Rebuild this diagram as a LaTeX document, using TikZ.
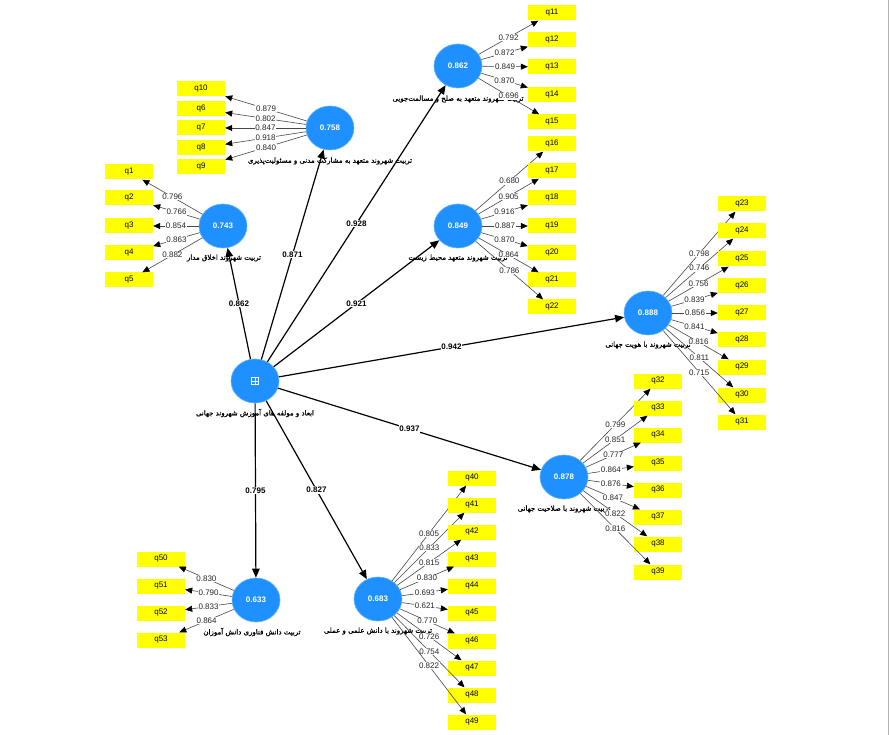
\documentclass[tikz,border=0pt]{standalone}
\usepackage{fontspec}
\setmainfont{Liberation Sans}
\newfontfamily\fafont[Script=Arabic,FakeBold=1.2]{DejaVu Sans}
\usetikzlibrary{shapes.geometric,arrows.meta}
\TeXXeTstate=1
\definecolor{lvblue}{HTML}{1E90FF}
\definecolor{indyellow}{HTML}{FFFF00}
\begin{document}
\begin{tikzpicture}[x=1pt,y=-1pt,
  lv/.style={ellipse, fill=lvblue, draw=lvblue!70!white, line width=0.6pt, minimum width=48pt, minimum height=44pt, inner sep=0pt, text=white, font=\fontsize{8}{9}\selectfont\bfseries},
  ind/.style={rectangle, fill=indyellow, minimum width=48pt, minimum height=15pt, inner sep=0pt, font=\fontsize{8}{9}\selectfont},
  ld/.style={-{Triangle[length=7pt,width=6pt,color=black]}, draw=black!72, line width=0.6pt},
  lw/.style={fill=white, inner sep=0.6pt, font=\fontsize{8}{9}\selectfont, text=black!85},
  pth/.style={-{Triangle[length=9pt,width=7.5pt]}, line width=1.2pt},
  pw/.style={fill=white, inner sep=0.8pt, font=\fontsize{8}{9}\selectfont\bfseries},
  fa/.style={font=\fafont\fontsize{7}{8}\selectfont, inner sep=0.5pt}]
\fill[white] (0,0) rectangle (889,735);
\useasboundingbox (0,0) rectangle (889,735);
\draw[black!30, line width=1pt] (888,0) -- (888,735);

% latent variables
\node[lv] (C) at (255,381) {};
\draw[white, line width=0.6pt] (C) ++(-3.5,-3.5) rectangle ++(7,7);
\draw[white, line width=0.6pt] (C) ++(-3.5,0) -- ++(7,0);
\draw[white, line width=0.6pt] (C) ++(0,-3.5) -- ++(0,7);
\node[lv] (LA) at (458,66) {0.862};
\node[lv] (LB) at (330,128) {0.758};
\node[lv] (LC) at (223,226) {0.743};
\node[lv] (LD) at (458,226) {0.849};
\node[lv] (LE) at (648,313) {0.888};
\node[lv] (LF) at (564,477) {0.878};
\node[lv] (LG) at (378,599) {0.683};
\node[lv] (LH) at (256,600) {0.633};

% latent labels
\node[fa] (tC) at (255,413) {\beginR ابعاد و مولفه های آموزش شهروند جهانی\endR};
\node[fa] (tA) at (458,99) {\beginR تربیت شهروند متعهد به صلح و مسالمت‌جویی\endR};
\node[fa] (tB) at (330,161) {\beginR تربیت شهروند متعهد به مشارکت مدنی و مسئولیت‌پذیری\endR};
\node[fa] (tC2) at (224,258) {\beginR تربیت شهروند اخلاق مدار\endR};
\node[fa] (tD) at (458,258) {\beginR تربیت شهروند متعهد محیط زیست\endR};
\node[fa] (tE) at (648,345) {\beginR تربیت شهروند با هویت جهانی\endR};
\node[fa] (tF) at (564,509) {\beginR تربیت شهروند با صلاحیت جهانی\endR};
\node[fa] (tG) at (378,631) {\beginR تربیت شهروند با دانش علمی و عملی\endR};
\node[fa] (tH) at (252,632) {\beginR تربیت دانش فناوری دانش آموزان\endR};

% indicators and loadings
\foreach \n/\y/\v in {11/13/0.792,12/40/0.872,13/67/0.849,14/95/0.870,15/122/0.696}{
  \node[ind] (q\n) at (552,\y) {q\n};
  \draw[ld] (LA) -- node[lw]{\v} (q\n);
}
\foreach \n/\y/\v in {10/89/0.879,6/109/0.802,7/128/0.847,8/148/0.918,9/167/0.840}{
  \node[ind] (q\n) at (201,\y) {q\n};
  \draw[ld] (LB) -- node[lw]{\v} (q\n);
}
\foreach \n/\y/\v in {1/172/0.796,2/198/0.766,3/226/0.854,4/253/0.863,5/280/0.882}{
  \node[ind] (q\n) at (129,\y) {q\n};
  \draw[ld] (LC) -- node[lw]{\v} (q\n);
}
\foreach \n/\y/\v in {16/144/0.680,17/171/0.905,18/198/0.916,19/226/0.887,20/253/0.870,21/280/0.864,22/307/0.786}{
  \node[ind] (q\n) at (552,\y) {q\n};
  \draw[ld] (LD) -- node[lw]{\v} (q\n);
}
\foreach \n/\y/\v in {23/204/0.798,24/231/0.746,25/259/0.756,26/286/0.839,27/313/0.856,28/340/0.841,29/367/0.816,30/395/0.811,31/422/0.715}{
  \node[ind] (q\n) at (742,\y) {q\n};
  \draw[ld] (LE) -- node[lw]{\v} (q\n);
}
\foreach \n/\y/\v in {32/381/0.799,33/408/0.851,34/435/0.777,35/463/0.864,36/490/0.876,37/517/0.847,38/544/0.822,39/572/0.816}{
  \node[ind] (q\n) at (658,\y) {q\n};
  \draw[ld] (LF) -- node[lw]{\v} (q\n);
}
\foreach \n/\y/\v in {40/478/0.805,41/505/0.833,42/532/0.815,43/559/0.830,44/586/0.693,45/613/0.621,46/641/0.770,47/668/0.726,48/695/0.754,49/722/0.822}{
  \node[ind] (q\n) at (472,\y) {q\n};
  \draw[ld] (LG) -- node[lw]{\v} (q\n);
}
\foreach \n/\y/\v in {50/559/0.830,51/586/0.790,52/613/0.833,53/640/0.864}{
  \node[ind] (q\n) at (161,\y) {q\n};
  \draw[ld] (LH) -- node[lw]{\v} (q\n);
}

% structural paths
\draw[pth] (C) -- node[pw]{0.862} (LC);
\draw[pth] (C) -- node[pw]{0.871} (LB);
\draw[pth] (C) -- node[pw]{0.928} (LA);
\draw[pth] (C) -- node[pw]{0.921} (LD);
\draw[pth] (C) -- node[pw]{0.942} (LE);
\draw[pth] (C) -- node[pw]{0.937} (LF);
\draw[pth] (C) -- node[pw]{0.795} (LH);
\draw[pth] (C) -- node[pw]{0.827} (LG);
\end{tikzpicture}
\end{document}
